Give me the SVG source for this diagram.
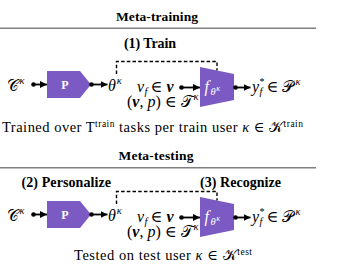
<svg xmlns="http://www.w3.org/2000/svg" width="343" height="273" viewBox="0 0 343 273">
<style>
text{font-family:"Liberation Serif","DejaVu Serif",serif;fill:#000}
.h{font-weight:bold;font-size:13.5px;text-anchor:middle}
.s{font-weight:bold;font-size:14px}
.cap{font-size:14.5px}
.m{font-size:16px;font-style:italic}
.up{font-style:normal}
.sc{font-style:normal;font-family:"DejaVu Serif","DejaVu Sans","Noto Sans",serif;font-weight:normal}
.sm{font-size:10.5px;font-style:italic}
.bv{font-weight:bold;font-style:italic}
.w{fill:#fff}
.box{fill:#7B5AC3}
.conn{stroke:#000;stroke-width:1.8;fill:none;marker-start:url(#dot);marker-end:url(#arr)}
.dash{stroke:#000;stroke-width:1.4;fill:none;stroke-dasharray:3.5 2.2}
.rule{stroke:#808080;stroke-width:1.6}
</style>
<defs>
<marker id="arr" markerUnits="userSpaceOnUse" markerWidth="8" markerHeight="8" refX="7" refY="4" orient="auto">
<path d="M0,0.6 L7,4 L0,7.4 z" fill="#000"/>
</marker>
<marker id="dot" markerUnits="userSpaceOnUse" markerWidth="6" markerHeight="6" refX="3" refY="3">
<circle cx="3" cy="3" r="2.3" fill="#000"/>
</marker>
</defs>

<!-- Meta-training -->
<g id="header-train">
<text class="h" x="157" y="20.5" textLength="82">Meta-training</text>
<line class="rule" x1="0" y1="28.3" x2="316" y2="28.3"/>
<text class="s" x="150" y="48" text-anchor="middle" textLength="52">(1) Train</text>
</g>

<g id="c-train">
<text x="6.5" y="90.5" class="m"><tspan class="sc">𝒞</tspan><tspan class="sm" dx="1" dy="-7">κ</tspan></text>
</g>
<g id="p-train">
<path class="box" d="M47,71 H80 L91,84.5 L80,98 H47 Z"/>
<text x="65" y="88.5" class="w" font-weight="bold" font-size="12" text-anchor="middle">P</text>
</g>
<g id="theta-train">
<text x="108" y="90.5" class="m">θ<tspan class="sm" dx="1" dy="-7">κ</tspan></text>
</g>
<g id="v-train">
<text x="137" y="91.5" class="m">v<tspan class="sm" dx="0.5" dy="3">f</tspan><tspan class="up" dx="3" dy="-3">∈</tspan><tspan class="bv" dx="4">v</tspan><tspan x="127" y="107" class="up">(</tspan><tspan class="bv">v</tspan><tspan class="up">, </tspan>p<tspan class="up">) ∈ </tspan><tspan class="sc">𝒯</tspan><tspan class="sm" dx="1" dy="-7">κ</tspan></text>
</g>
<g id="f-train">
<path class="box" d="M200,67 L234,74 L234,100 L200,107 Z"/>
<text x="204.5" y="92" class="m w">f<tspan class="sm" dx="1.5" dy="3">θ</tspan><tspan font-size="8" dx="0.5" dy="-4">κ</tspan></text>
</g>
<g id="y-train">
<text x="252" y="91.5" class="m">y<tspan class="up" font-size="10" dx="0.5" dy="-7">*</tspan><tspan class="sm" dx="-5" dy="10">f</tspan><tspan class="up" dx="4" dy="-3">∈</tspan><tspan class="sc" dx="4">𝒫</tspan><tspan class="sm" dx="1" dy="-7">κ</tspan></text>
</g>
<text class="cap" x="2" y="131.5" textLength="301">Trained over T<tspan font-size="9.5" dy="-5">train</tspan><tspan dy="5"> tasks per train user </tspan><tspan font-style="italic">κ</tspan> ∈ <tspan class="sc" font-size="15">𝒦</tspan><tspan font-size="9.5" dy="-5">train</tspan></text>

<!-- Meta-testing -->
<g id="header-test">
<text class="h" x="156" y="160" textLength="75">Meta-testing</text>
<line class="rule" x1="0" y1="167.7" x2="316" y2="167.7" stroke="#5a5a5a"/>
<text class="s" x="21.5" y="186.5" textLength="89.5">(2) Personalize</text>
<text class="s" x="200" y="186.5" textLength="81">(3) Recognize</text>
</g>

<g id="c-test">
<text x="6.5" y="220.5" class="m"><tspan class="sc">𝒞</tspan><tspan class="sm" dx="1" dy="-7">κ</tspan></text>
</g>
<g id="p-test">
<path class="box" d="M47,201 H80 L91,214.5 L80,228 H47 Z"/>
<text x="65" y="218.5" class="w" font-weight="bold" font-size="12" text-anchor="middle">P</text>
</g>
<g id="theta-test">
<text x="108" y="220.5" class="m">θ<tspan class="sm" dx="1" dy="-7">κ</tspan></text>
</g>
<g id="v-test">
<text x="137" y="221.5" class="m">v<tspan class="sm" dx="0.5" dy="3">f</tspan><tspan class="up" dx="3" dy="-3">∈</tspan><tspan class="bv" dx="4">v</tspan><tspan x="127" y="237" class="up">(</tspan><tspan class="bv">v</tspan><tspan class="up">, </tspan>p<tspan class="up">) ∈ </tspan><tspan class="sc">𝒯</tspan><tspan class="sm" dx="1" dy="-7">κ</tspan></text>
</g>
<g id="f-test">
<path class="box" d="M200,197 L234,204 L234,230 L200,237 Z"/>
<text x="204.5" y="222" class="m w">f<tspan class="sm" dx="1.5" dy="3">θ</tspan><tspan font-size="8" dx="0.5" dy="-4">κ</tspan></text>
</g>
<g id="y-test">
<text x="252" y="221.5" class="m">y<tspan class="up" font-size="10" dx="0.5" dy="-7">*</tspan><tspan class="sm" dx="-5" dy="10">f</tspan><tspan class="up" dx="4" dy="-3">∈</tspan><tspan class="sc" dx="4">𝒫</tspan><tspan class="sm" dx="1" dy="-7">κ</tspan></text>
</g>
<text class="cap" x="74" y="260" textLength="178">Tested on test user <tspan font-style="italic">κ</tspan> ∈ <tspan class="sc" font-size="15">𝒦</tspan><tspan font-size="9.5" dy="-5">test</tspan></text>

<g id="connectors">
<line class="conn" x1="33.5" y1="84.5" x2="47" y2="84.5"/>
<line class="conn" x1="91.5" y1="84.5" x2="107.5" y2="84.5"/>
<line class="conn" x1="181.5" y1="87.5" x2="200" y2="87.5"/>
<line class="conn" x1="235.5" y1="87.5" x2="250.5" y2="87.5"/>
<path class="dash" d="M116.5,74 V61.5 H217 V70.5"/>
<line class="conn" x1="33.5" y1="214.5" x2="47" y2="214.5"/>
<line class="conn" x1="91.5" y1="214.5" x2="107.5" y2="214.5"/>
<line class="conn" x1="181.5" y1="217.5" x2="200" y2="217.5"/>
<line class="conn" x1="235.5" y1="217.5" x2="250.5" y2="217.5"/>
<path class="dash" d="M116.5,204 V191.5 H217 V200.5"/>
</g>
</svg>
